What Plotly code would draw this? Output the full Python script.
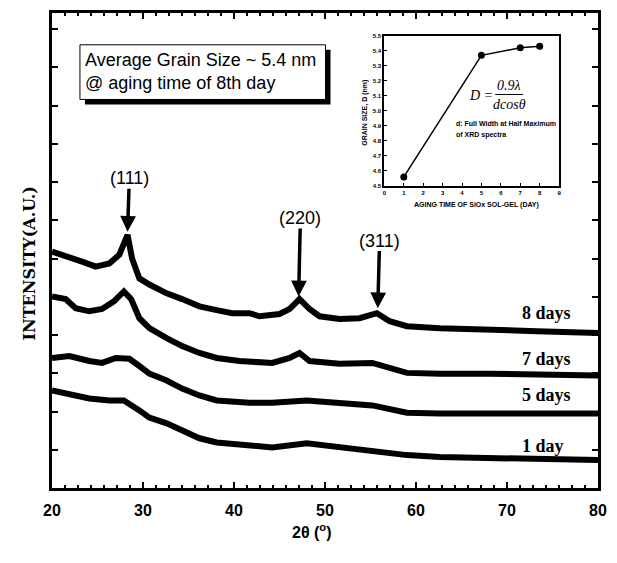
import plotly.graph_objects as go

# XRD patterns of SiOx sol-gel films, vertically offset by aging time
tt_8d = [20.0, 21.9, 23.3, 24.8, 26.3, 27.4, 27.9, 28.3, 28.8, 29.6, 30.7, 32.6, 34.3, 36.2,
         38.1, 39.8, 41.7, 42.8, 45.0, 46.1, 47.2, 48.3, 49.4, 51.6, 53.8, 55.7, 57.1, 59.0,
         62.6, 67.8, 73.3, 80.0]
int_8d = [6.18, 6.05, 5.92, 5.79, 5.87, 6.10, 6.36, 6.62, 6.00, 5.48, 5.32, 5.09, 4.94, 4.75,
          4.65, 4.57, 4.57, 4.49, 4.55, 4.68, 4.94, 4.68, 4.49, 4.42, 4.44, 4.57, 4.36, 4.23,
          4.18, 4.16, 4.10, 4.05]

tt_7d = [20.0, 21.5, 22.6, 24.1, 25.5, 26.8, 27.9, 28.7, 29.6, 30.7, 32.6, 34.3, 36.2, 38.1,
         40.6, 44.2, 46.1, 47.2, 48.3, 51.6, 55.2, 57.1, 59.0, 62.6, 67.8, 80.0]
int_7d = [5.01, 4.94, 4.70, 4.62, 4.68, 4.88, 5.14, 4.94, 4.44, 4.18, 3.92, 3.71, 3.53, 3.40,
          3.32, 3.27, 3.40, 3.53, 3.32, 3.25, 3.27, 3.12, 3.01, 2.99, 2.99, 2.94]

tt_5d = [20.0, 21.9, 24.1, 25.5, 27.0, 28.5, 29.6, 30.7, 32.6, 34.3, 36.2, 38.1, 41.7, 44.2,
         48.0, 51.6, 55.2, 59.0, 62.6, 80.0]
int_5d = [3.40, 3.45, 3.32, 3.27, 3.40, 3.38, 3.19, 2.99, 2.81, 2.60, 2.42, 2.29, 2.23, 2.23,
          2.29, 2.23, 2.16, 1.97, 1.95, 1.95]

tt_1d = [20.0, 21.9, 24.1, 26.3, 27.9, 29.6, 30.7, 32.6, 34.3, 36.2, 38.1, 41.7, 44.2, 48.0,
         51.6, 55.2, 59.0, 62.6, 80.0]
int_1d = [2.55, 2.47, 2.34, 2.29, 2.29, 2.03, 1.84, 1.69, 1.51, 1.30, 1.19, 1.12, 1.06, 1.17,
          1.06, 0.94, 0.86, 0.81, 0.73]

series_names = ["8 days", "7 days", "5 days", "1 day"]
series_label_y = [4.57, 3.38, 2.42, 1.09]

# Indexed reflections on the 8-day pattern: arrow tip and label centre
peak_names = ["(111)", "(220)", "(311)"]
peak_tt = [28.3, 47.1, 55.8]
peak_tip = [6.70, 5.01, 4.70]
peak_label_y = [8.10, 7.06, 6.47]

# Inset: grain size versus aging time
aging_days = [1, 5, 7, 8]
grain_size_nm = [4.56, 5.37, 5.42, 5.43]

X_TICKS = [20, 30, 40, 50, 60, 70, 80]

# Plot area in pixels (for placing paper-referenced decorations)
W, H = 617, 563
L, R, T, B = 52, 599, 10, 488


def px(xp):
    return (xp - L) / (R - L)


def py(yp):
    return (B - yp) / (B - T)


fig = go.Figure()

for tt, val in [(tt_8d, int_8d), (tt_7d, int_7d), (tt_5d, int_5d), (tt_1d, int_1d)]:
    fig.add_trace(go.Scatter(x=tt, y=val, mode="lines",
                             line=dict(color="black", width=6),
                             showlegend=False, xaxis="x", yaxis="y"))

fig.add_trace(go.Scatter(x=aging_days, y=grain_size_nm, mode="lines+markers",
                         line=dict(color="black", width=1.5),
                         marker=dict(color="black", size=7, symbol="circle"),
                         showlegend=False, xaxis="x2", yaxis="y2"))

annotations = []

# Series labels
for name, yv in zip(series_names, series_label_y):
    annotations.append(dict(x=71.4, y=yv, xref="x", yref="y", text=name, showarrow=False,
                            xanchor="left", yanchor="middle",
                            font=dict(family="Liberation Serif", size=18, color="black",
                                      weight="bold")))

# Peak labels with arrows pointing down to the reflections
for name, xt, yt, yl in zip(peak_names, peak_tt, peak_tip, peak_label_y):
    annotations.append(dict(x=xt, y=yt, xref="x", yref="y", ax=xt + 0.2, ay=yl,
                            axref="x", ayref="y", text=name, showarrow=True,
                            arrowhead=2, arrowsize=0.9, arrowwidth=3.5,
                            arrowcolor="black", standoff=0, borderpad=0,
                            font=dict(family="Liberation Sans", size=18, color="black")))

# Text box
annotations.append(dict(x=px(83), y=py(68.5), xref="paper", yref="paper",
                        text="Average Grain Size ~ 5.4 nm<br>@ aging time of 8th day",
                        showarrow=False, xanchor="left", yanchor="middle", align="left",
                        font=dict(family="Liberation Sans", size=18, color="black")))

# Axis titles
annotations.append(dict(x=px(29), y=py(262), xref="paper", yref="paper",
                        text="INTENSITY(A.U.)", textangle=-90, showarrow=False,
                        xanchor="center", yanchor="middle",
                        font=dict(family="DejaVu Serif", size=16, color="black",
                                  weight="bold")))
annotations.append(dict(x=px(312), y=py(531), xref="paper", yref="paper",
                        text="2θ (<sup>o</sup>)", showarrow=False,
                        xanchor="center", yanchor="middle",
                        font=dict(family="Liberation Sans", size=16, color="black",
                                  weight="bold")))

# Inset decorations
small = dict(family="Liberation Sans", size=7, color="black", weight="bold")
annotations.append(dict(x=px(366), y=py(110), xref="paper", yref="paper",
                        text="GRAIN SIZE, D (nm)", textangle=-90, showarrow=False,
                        xanchor="center", yanchor="middle", font=small))
annotations.append(dict(x=px(477), y=py(203), xref="paper", yref="paper",
                        text="AGING TIME OF SiOx SOL-GEL (DAY)", showarrow=False,
                        xanchor="center", yanchor="middle", font=small))
annotations.append(dict(x=px(455), y=py(121), xref="paper", yref="paper",
                        text="d: Full Width at Half Maximum", showarrow=False,
                        xanchor="left", yanchor="middle", font=small))
annotations.append(dict(x=px(455), y=py(133), xref="paper", yref="paper",
                        text="of XRD spectra", showarrow=False,
                        xanchor="left", yanchor="middle", font=small))
formula_font = dict(family="Liberation Serif", size=14, color="black", style="italic")
annotations.append(dict(x=px(482), y=py(93), xref="paper", yref="paper",
                        text="D =", showarrow=False, xanchor="center", yanchor="middle",
                        font=formula_font))
annotations.append(dict(x=px(510), y=py(83), xref="paper", yref="paper",
                        text="0.9λ", showarrow=False, xanchor="center", yanchor="middle",
                        font=formula_font))
annotations.append(dict(x=px(510), y=py(102), xref="paper", yref="paper",
                        text="dcosθ", showarrow=False, xanchor="center", yanchor="middle",
                        font=formula_font))

shapes = [
    # drop shadow and box for the grain-size note
    dict(type="rect", xref="paper", yref="paper", x0=px(85), x1=px(331), y0=py(102), y1=py(47),
         fillcolor="black", line=dict(width=0), layer="above"),
    dict(type="rect", xref="paper", yref="paper", x0=px(80), x1=px(326), y0=py(97), y1=py(42),
         fillcolor="white", line=dict(color="black", width=1), layer="above"),
    # fraction bar of the Scherrer formula
    dict(type="line", xref="paper", yref="paper", x0=px(496), x1=px(524), y0=py(92), y1=py(92),
         line=dict(color="black", width=1)),
]

axis_font = dict(family="Liberation Sans", size=16, color="black", weight="bold")

fig.update_layout(
    width=W, height=H,
    margin=dict(l=L, r=W - R, t=T, b=H - B, pad=0),
    paper_bgcolor="white", plot_bgcolor="white",
    showlegend=False,
    xaxis=dict(domain=[0, 1], range=[20, 80], tickvals=X_TICKS,
               ticks="inside", ticklen=6, tickwidth=2, tickcolor="black",
               minor=dict(dtick=10 / 7, tick0=20, ticks="inside", ticklen=3, tickwidth=2,
                          tickcolor="black", showgrid=False),
               showline=True, linewidth=3, linecolor="black", mirror="allticks",
               showgrid=False, zeroline=False, tickfont=axis_font, ticklabelstandoff=6),
    yaxis=dict(domain=[0, 1], range=[0, 12.42], dtick=1, tick0=0,
               ticks="inside", ticklen=6, tickwidth=2, tickcolor="black",
               showticklabels=False,
               showline=True, linewidth=3, linecolor="black", mirror="allticks",
               showgrid=False, zeroline=False),
    xaxis2=dict(domain=[px(385), px(560)], anchor="y2", range=[0, 9], dtick=1,
                ticks="inside", ticklen=3, tickwidth=1, tickcolor="black",
                showline=True, linewidth=2, linecolor="black", mirror=True,
                showgrid=False, zeroline=False,
                tickfont=dict(family="Liberation Sans", size=6, color="black", weight="bold")),
    yaxis2=dict(domain=[py(184), py(33)], anchor="x2", range=[4.5, 5.5], dtick=0.1,
                tickformat=".1f",
                ticks="inside", ticklen=3, tickwidth=1, tickcolor="black",
                showline=True, linewidth=2, linecolor="black", mirror=True,
                showgrid=False, zeroline=False,
                tickfont=dict(family="Liberation Sans", size=6, color="black", weight="bold")),
    annotations=annotations,
    shapes=shapes,
)

fig.write_html("out.html")
